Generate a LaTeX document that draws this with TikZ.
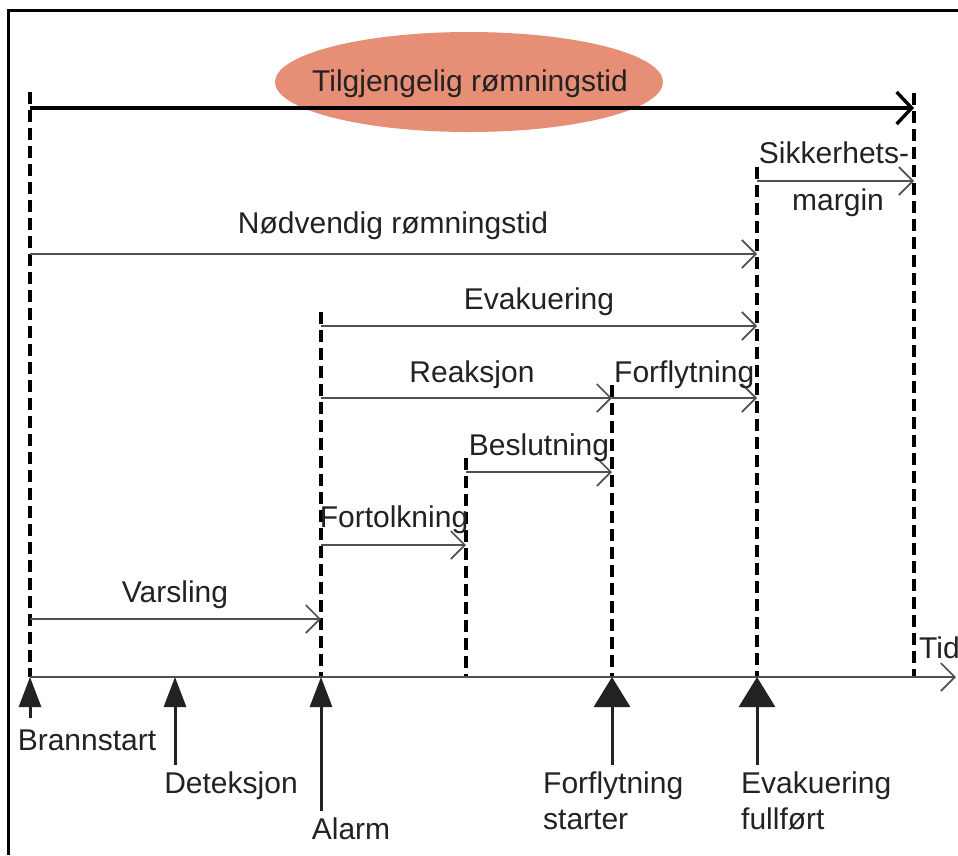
\documentclass[tikz,border=0pt]{standalone}
\usepackage{fontspec}
\setmainfont{Liberation Sans}
\usetikzlibrary{arrows.meta,shapes.geometric}
\definecolor{salmonfill}{RGB}{230,143,118}
\definecolor{txt}{RGB}{34,34,34}
\definecolor{thinline}{RGB}{80,80,80}
\begin{document}
\begin{tikzpicture}[x=1pt,y=-1pt,
  lbl/.style={text=txt,font=\fontsize{30}{34}\selectfont,inner sep=0pt,anchor=base},
  lblw/.style={lbl,anchor=base west},
  span/.style={draw=thinline,line width=1.7pt,-{Straight Barb[length=14pt,width=28pt]}},
  guide/.style={draw=black,line width=3.2pt,dash pattern=on 12pt off 6pt},
  marker/.style={draw=txt,fill=txt,line width=3pt,-{Triangle[length=30pt,width=22pt]}},
  bigmarker/.style={draw=txt,fill=txt,line width=3pt,-{Triangle[length=30pt,width=36pt]}}
]
\useasboundingbox (0,0) rectangle (958,855);
\fill[white] (0,0) rectangle (958,855);
\draw[line width=3pt] (8,855) -- (8,10) -- (958,10);

% ellipse behind the top arrow
\node (ell) [ellipse, fill=salmonfill, minimum width=388pt, minimum height=100pt, inner sep=0pt] at (469,82) {};

% time points on the axis
\coordinate (tA) at (30,677);
\coordinate (tD) at (175,677);
\coordinate (tAl) at (321,677);
\coordinate (tB) at (466,677);
\coordinate (tF) at (612,677);
\coordinate (tE) at (757,677);
\coordinate (tS) at (914,677);
\coordinate (tEnd) at (956,677);

% tops of guide lines
\coordinate (gA) at (30,92);
\coordinate (gAl) at (321,312);
\coordinate (gB) at (466,458);
\coordinate (gF) at (612,385);
\coordinate (gE) at (757,167);
\coordinate (gS) at (914,93);

% dashed guides
\draw[guide] (gA) -- (tA);
\draw[guide] (gAl) -- (tAl);
\draw[guide] (gB) -- (tB);
\draw[guide] (gF) -- (tF);
\draw[guide] (gE) -- (tE);
\draw[guide] (gS) -- (tS);

% span end points
\coordinate (a1) at (30,108);   \coordinate (a2) at (914,108);
\coordinate (s1) at (757,181);  \coordinate (s2) at (914,181);
\coordinate (n1) at (30,254);   \coordinate (n2) at (757,254);
\coordinate (e1) at (321,326);  \coordinate (e2) at (757,326);
\coordinate (r1) at (321,398);  \coordinate (r2) at (612,398);
\coordinate (f2) at (757,398);
\coordinate (b1) at (466,472);  \coordinate (b2) at (612,472);
\coordinate (o1) at (321,545);  \coordinate (o2) at (466,545);
\coordinate (v1) at (30,619);   \coordinate (v2) at (321,619);

% top thick arrow
\draw[black,line width=3.4pt,-{Straight Barb[length=15pt,width=32pt]}] (a1) -- (a2);
\node[lbl] (tilg) at (470,91) {Tilgjengelig rømningstid};

% spans
\draw[span] (s1) -- (s2);
\draw[span] (n1) -- (n2);
\draw[span] (e1) -- (e2);
\draw[span] (r1) -- (r2);
\draw[span] (r2) -- (f2);
\draw[span] (b1) -- (b2);
\draw[span] (o1) -- (o2);
\draw[span] (v1) -- (v2);

% axis
\draw[span] (tA) -- (tEnd);

% span labels
\node[lbl] (lsik) at (834,163) {Sikkerhets-};
\node[lbl] (lmar) at (838,210) {margin};
\node[lbl] (lnod) at (393,233) {Nødvendig rømningstid};
\node[lbl] (lev) at (539,309) {Evakuering};
\node[lbl] (lre) at (472,382) {Reaksjon};
\node[lblw] (lfo) at (614,382) {Forflytning};
\node[lbl] (lbe) at (539,455) {Beslutning};
\node[lbl] (lft) at (394,527) {Fortolkning};
\node[lbl] (lva) at (175,602) {Varsling};
\node[lblw] (ltid) at (919,658) {Tid};

% markers
\coordinate (mA) at (30,718);
\coordinate (mD) at (175,765);
\coordinate (mAl) at (321,811);
\coordinate (mF) at (612,765);
\coordinate (mE) at (757,765);
\draw[marker] (mA) -- (tA);
\draw[marker] (mD) -- (tD);
\draw[marker] (mAl) -- (tAl);
\draw[bigmarker] (mF) -- (tF);
\draw[bigmarker] (mE) -- (tE);

% marker labels
\node[lbl] (lbr) at (87,750) {Brannstart};
\node[lbl] (lde) at (231,793) {Deteksjon};
\node[lbl] (lal) at (351,839) {Alarm};
\node[lblw] (lfs1) at (543,793) {Forflytning};
\node[lblw] (lfs2) at (543,829) {starter};
\node[lblw] (lef1) at (741,793) {Evakuering};
\node[lblw] (lef2) at (741,829) {fullført};
\end{tikzpicture}
\end{document}
